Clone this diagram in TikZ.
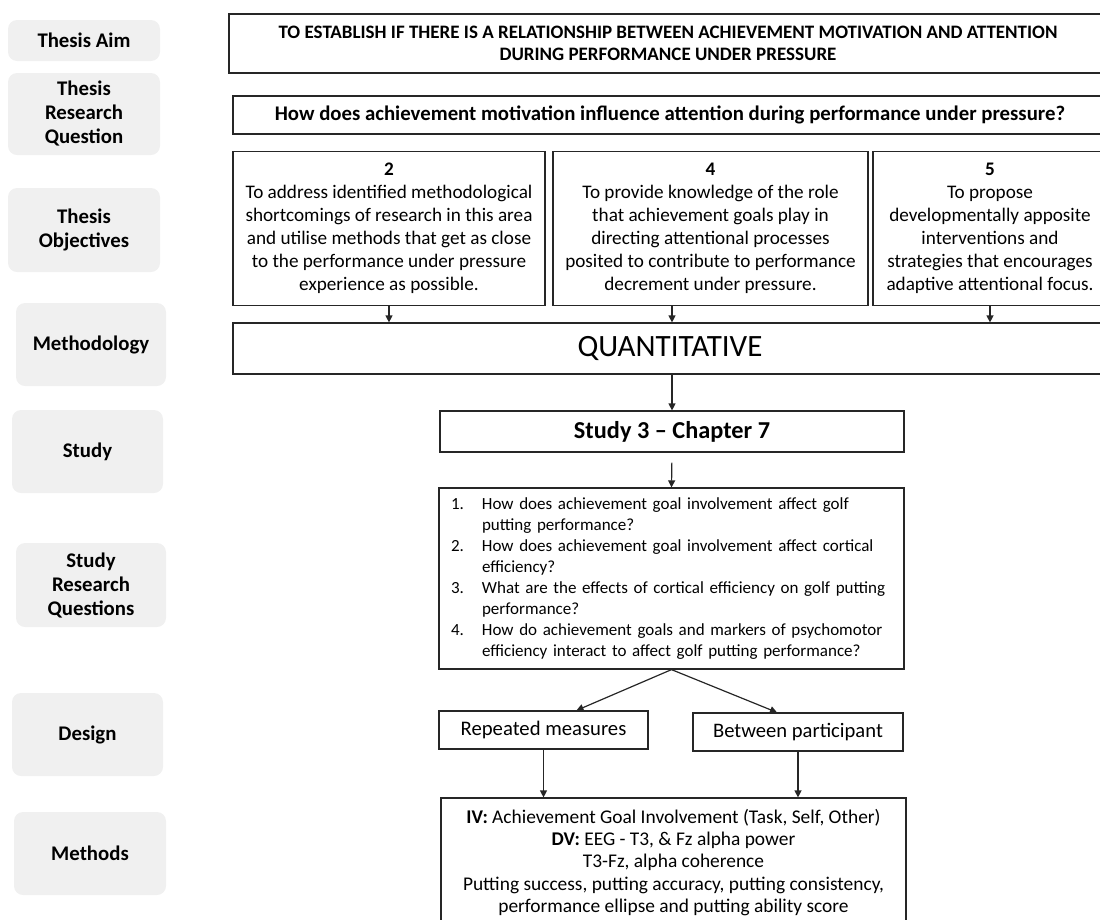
\documentclass[tikz,border=0pt]{standalone}
\usepackage{fontspec}
\setmainfont{Carlito}
\usepackage{tikz}
\usetikzlibrary{arrows.meta, positioning}
\definecolor{lblc}{HTML}{F0F0F0}
\definecolor{linec}{HTML}{262626}

\begin{document}
\begin{tikzpicture}[x=1pt, y=-1pt, >={Triangle[length=7pt, width=7pt]},
      box/.style={draw=linec, line width=1.2pt, align=center, inner sep=0pt},
      side/.style={fill=lblc, rounded corners=9pt, minimum width=152pt,
                   align=center, font=\fontsize{20.8}{24}\selectfont\bfseries},
      objbox/.style={box, minimum height=154pt,
                     font=\fontsize{19.2}{23}\selectfont},
      arr/.style={->, draw=linec, line width=1.2pt}]
  \useasboundingbox (0,0) rectangle (1100,919);

  % row labels on the left
  \node[side, minimum height=41pt] (sAim) at (84,40.5) {Thesis Aim};
  \node[side, minimum height=82pt] (sTrq) at (84,114) {Thesis\\ Research\\ Question};
  \node[side, minimum height=84pt] (sObj) at (84,230) {Thesis\\ Objectives};
  \node[side, minimum height=83pt, minimum width=150pt] (sMeth) at (91,344.5) {Methodology};
  \node[side, minimum height=83pt, minimum width=151pt] (sStudy) at (87.5,451.5) {Study};
  \node[side, minimum height=84pt, minimum width=150pt] (sSrq) at (91,585) {Study\\ Research\\ Questions};
  \node[side, minimum height=83pt, minimum width=151pt] (sDes) at (87.5,734.5) {Design};
  \node[side, minimum height=83pt] (sMet) at (90,853.5) {Methods};

  % thesis level
  \node[box, minimum width=878pt, minimum height=59pt,
        font=\fontsize{19}{22}\selectfont\bfseries] (aim) at (668,43.5)
    {TO ESTABLISH IF THERE IS A RELATIONSHIP BETWEEN ACHIEVEMENT MOTIVATION AND ATTENTION\\
     DURING PERFORMANCE UNDER PRESSURE};
  \node[box, minimum width=874pt, minimum height=38pt,
        font=\fontsize{20.8}{24}\selectfont\bfseries] (trq) at (670,115)
    {How does achievement motivation influence attention during performance under pressure?};

  \node[objbox, minimum width=312pt] (obj2) at (389,228.5)
    {\textbf{2}\\ To address identified methodological\\ shortcomings of research in this area\\
     and utilise methods that get as close\\ to the performance under pressure\\ experience as possible.};
  \node[objbox, minimum width=315pt] (obj4) at (710.5,228.5)
    {\textbf{4}\\ To provide knowledge of the role\\ that achievement goals play in\\
     directing attentional processes\\ posited to contribute to performance\\ decrement under pressure.};
  \node[objbox, minimum width=234pt] (obj5) at (990,228.5)
    {\textbf{5}\\ To propose\\ developmentally apposite\\ interventions and\\
     strategies that encourages\\ adaptive attentional focus.};

  \node[box, minimum width=874pt, minimum height=51pt,
        font=\fontsize{31}{35}\selectfont] (quant) at (670,348.5) {QUANTITATIVE};

  % study level
  \node[box, minimum width=464pt, minimum height=41pt,
        font=\fontsize{24.3}{28}\selectfont\bfseries] (study) at (672,431.5) {Study 3 – Chapter 7};
  \node[box, text width=441pt, inner xsep=12pt, minimum height=181pt, align=left,
        font=\fontsize{17}{21}\selectfont] (srq) at (671.5,578.5)
    {\begin{tabular}{@{}p{31pt}@{}l@{}}
      1. & How does achievement goal involvement affect golf\\
         & putting performance?\\
      2. & How does achievement goal involvement affect cortical\\
         & efficiency?\\
      3. & What are the effects of cortical efficiency on golf putting\\
         & performance?\\
      4. & How do achievement goals and markers of psychomotor\\
         & efficiency interact to affect golf putting performance?
     \end{tabular}};

  \node[box, minimum width=209pt, minimum height=38pt,
        font=\fontsize{20.7}{24}\selectfont] (rep) at (543.5,730) {Repeated measures};
  \node[box, minimum width=210pt, minimum height=38pt,
        font=\fontsize{20.6}{24}\selectfont] (betw) at (798,732) {Between participant};

  \node[box, minimum width=465pt, minimum height=129pt,
        font=\fontsize{19.4}{22.3}\selectfont] (meth) at (673.5,862.5)
    {\textbf{IV:} Achievement Goal Involvement (Task, Self, Other)\\
     \textbf{DV:} EEG - T3, \& Fz alpha power\\
     T3-Fz, alpha coherence\\
     Putting success, putting accuracy, putting consistency,\\
     performance ellipse and putting ability score};

  \draw[arr] (obj2.south) -- (obj2.south |- quant.north);
  \draw[arr] (obj4.south -| study.north) -- (quant.north -| study.north);
  \draw[arr] (obj5.south) -- (obj5.south |- quant.north);
  \draw[arr] (quant.south -| study.north) -- (study.north);
  \draw[arr, shorten <=10pt] (study.south) -- (srq.north);
  \draw[arr] (srq.south) -- ([xshift=33pt]rep.north);
  \draw[arr] (srq.south) -- ([xshift=-21pt]betw.north);
  \draw[arr] (rep.south) -- (rep.south |- meth.north);
  \draw[arr] (betw.south) -- (betw.south |- meth.north);
\end{tikzpicture}
\end{document}
